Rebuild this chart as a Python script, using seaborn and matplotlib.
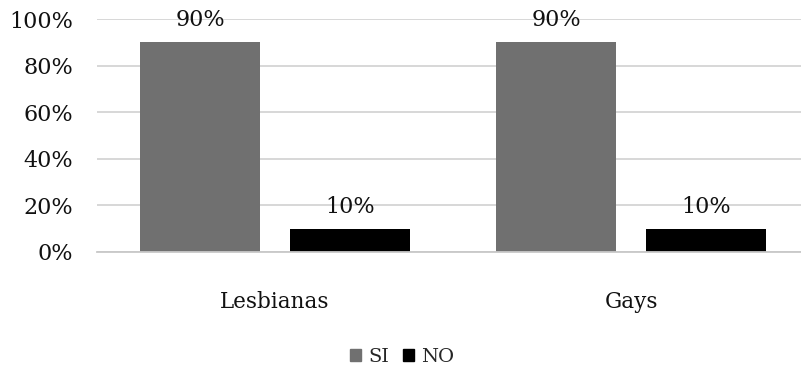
import matplotlib
matplotlib.use("Agg")
import matplotlib.pyplot as plt
import seaborn as sns
import pandas as pd

categories = ["Lesbianas", "Gays"]
series_names = ["SI", "NO"]
si_values = [90, 90]
no_values = [10, 10]
y_ticks = [0, 20, 40, 60, 80, 100]
y_tick_labels = ["0%", "20%", "40%", "60%", "80%", "100%"]

df = pd.DataFrame({
    "grupo": categories * 2,
    "respuesta": [series_names[0]] * len(categories) + [series_names[1]] * len(categories),
    "valor": si_values + no_values,
})

sns.set_theme(style="white")
plt.rcParams["font.family"] = ["DejaVu Serif"]

fig = plt.figure(figsize=(8.01, 3.71), dpi=100)
ax = fig.add_axes([97 / 801, 1 - 252 / 371, 712 / 801, 233 / 371])

palette = {"SI": "#707070", "NO": "#000000"}
sns.barplot(data=df, x="grupo", y="valor", hue="respuesta", order=categories,
            hue_order=series_names, palette=palette, width=0.84, gap=0.2,
            saturation=1, ax=ax, legend=False, edgecolor="none")

ax.set_xlim(-0.5, 1.5)
ax.set_ylim(0, 100)
ax.set_yticks(y_ticks)
ax.set_yticklabels(y_tick_labels)
ax.yaxis.grid(True, color="#d4d4d4", linewidth=1.3)
ax.set_axisbelow(True)
for s in ["top", "right", "left"]:
    ax.spines[s].set_visible(False)
ax.spines["bottom"].set_color("#c8c8c8")
ax.spines["bottom"].set_linewidth(1.3)
ax.tick_params(axis="y", length=0, pad=17, labelsize=16, labelcolor="#111111")
ax.tick_params(axis="x", length=0, pad=28, labelsize=15.5, labelcolor="#111111")
ax.set_xlabel("")
ax.set_ylabel("")

for cont in ax.containers:
    labels = [f"{v:.0f}%" for v in cont.datavalues]
    ax.bar_label(cont, labels=labels, padding=8, fontsize=16, color="#111111")

handles = [plt.Rectangle((0, 0), 1, 1, color=palette[n]) for n in series_names]
fig.legend(handles, series_names, loc="center", bbox_to_anchor=(402 / 801, 1 - 357 / 371),
           ncol=2, frameon=False, fontsize=14, handlelength=0.6, handleheight=0.6,
           handletextpad=0.35, columnspacing=0.7)

fig.savefig("out.png", dpi=100)
